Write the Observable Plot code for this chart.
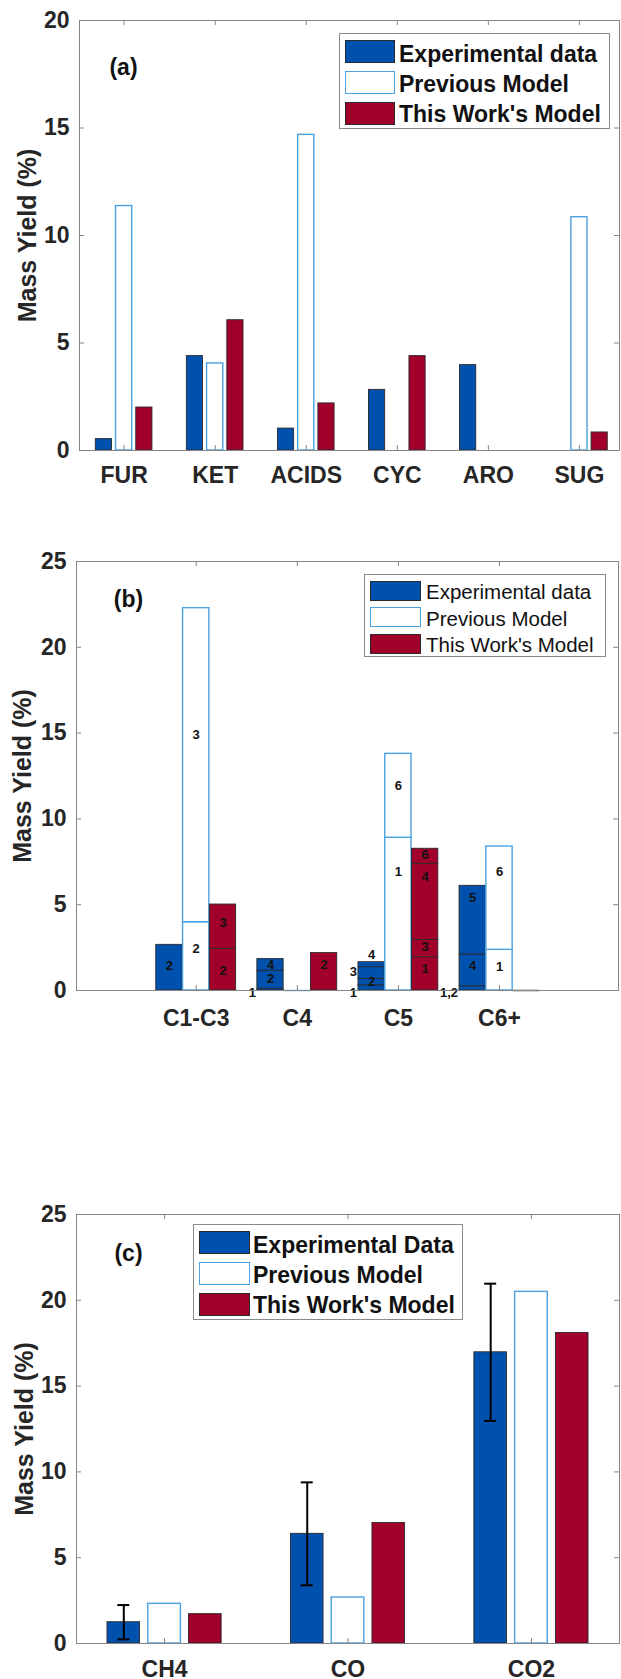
<!DOCTYPE html>
<html>
<head>
<meta charset="utf-8">
<script src="https://cdn.jsdelivr.net/npm/d3@7"></script>
<script src="https://cdn.jsdelivr.net/npm/@observablehq/plot@0.6"></script>
<style>
  html, body { margin: 0; padding: 0; background: #fff; overflow: hidden; }
  #root { position: relative; width: 621px; height: 1679px; font-family: "Liberation Sans", Arial, sans-serif; color: #262626; }
  .panel { position: absolute; left: 0; }
  .legend { position: absolute; border: 1px solid #8a8a8a; background: #fff; box-sizing: border-box; }
  .sw { position: absolute; box-sizing: border-box; }
  .lt { position: absolute; white-space: nowrap; line-height: 1; transform: translateY(-50%); color: #111; }
</style>
</head>
<body>
<div id="root"></div>
<script>
// ---------------- DATA ----------------
const seriesNames = ["Experimental data", "Previous Model", "This Work's Model"];
const seriesNamesC = ["Experimental Data", "Previous Model", "This Work's Model"];

// (a) liquid product classes
const catsA = ["FUR", "KET", "ACIDS", "CYC", "ARO", "SUG"];
const expA  = [0.53, 4.39, 1.02, 2.82, 3.97, 0];
const prevA = [11.37, 4.05, 14.68, 0, 0, 10.85];
const workA = [2.00, 6.06, 2.19, 4.39, 0, 0.84];
const yTicksA = [0, 5, 10, 15, 20];

// (b) stacked lumps by carbon number: [category, lump, mass yield]
const catsB = ["C1-C3", "C4", "C5", "C6+"];
const expB = [["C1-C3","2",2.66],["C4","1",0.10],["C4","2",1.05],["C4","4",0.68],
              ["C5","1",0.30],["C5","2",0.38],["C5","3",0.68],["C5","4",0.29],
              ["C6+","1,2",0.25],["C6+","4",1.85],["C6+","5",4.00]];
const prevB = [["C1-C3","2",3.98],["C1-C3","3",18.30],["C5","1",8.90],["C5","6",4.89],
               ["C6+","1",2.37],["C6+","6",6.02]];
const workB = [["C1-C3","2",2.43],["C1-C3","3",2.58],["C4","2",2.18],
               ["C5","1",1.94],["C5","3",1.01],["C5","4",4.43],["C5","6",0.88]];
// lump annotations: [category, series, text, height (%), side]
const labelsB = [
  ["C1-C3",0,"2",1.46,"in"], ["C1-C3",1,"2",2.45,"in"], ["C1-C3",1,"3",14.9,"in"],
  ["C1-C3",2,"2",1.17,"in"], ["C1-C3",2,"3",3.92,"in"],
  ["C4",0,"1",-0.12,"left"], ["C4",0,"2",0.68,"in"], ["C4",0,"4",1.51,"in"], ["C4",2,"2",1.5,"in"],
  ["C5",0,"1",-0.12,"left"], ["C5",0,"2",0.48,"in"], ["C5",0,"3",1.11,"left"], ["C5",0,"4",2.1,"in"],
  ["C5",1,"1",6.9,"in"], ["C5",1,"6",11.9,"in"],
  ["C5",2,"1",1.26,"in"], ["C5",2,"3",2.52,"in"], ["C5",2,"4",6.6,"in"], ["C5",2,"6",7.9,"in"],
  ["C6+",0,"1,2",-0.12,"left"], ["C6+",0,"4",1.46,"in"], ["C6+",0,"5",5.4,"in"],
  ["C6+",1,"1",1.36,"in"], ["C6+",1,"6",6.9,"in"]
];
const yTicksB = [0, 5, 10, 15, 20, 25];

// (c) gases
const catsC = ["CH4", "CO", "CO2"];
const expC  = [1.24, 6.39, 16.97];
const errC  = [1.00, 3.00, 4.00];
const prevC = [2.31, 2.68, 20.49];
const workC = [1.71, 7.02, 18.10];
const yTicksC = [0, 5, 10, 15, 20, 25];

// ---------------- STYLE ----------------
const BLUE = "#0051AD", RED = "#A0002A", LBLUE = "#4AA2E2", EDGE = "#2a2a2a", AX = "#858585", TXT = "#262626";
const FONT = "'Liberation Sans', Arial, Helvetica, sans-serif";
const fills = [BLUE, "#ffffff", RED];
const strokes = [EDGE, LBLUE, EDGE];
const strokeW = [0.9, 1.4, 0.9];

const root = document.getElementById("root");

function groupedRows(cats, values, offsets, w) {
  const rows = [];
  values.forEach((vals, s) => vals.forEach((v, i) => {
    const xc = i + 1 + offsets[s];
    rows.push({s, i, v, xc, x1: xc - w / 2, x2: xc + w / 2});
  }));
  return rows;
}

function frameMarks(cfg) {
  const {xDomain, yMax, xTicks, yTicks, pxX, pxY} = cfg;
  const tl = 5;
  return [
    Plot.ruleY(yTicks, {y: d => d, x1: xDomain[0], x2: xDomain[0] + tl / pxX, stroke: AX}),
    Plot.ruleY(yTicks, {y: d => d, x1: xDomain[1] - tl / pxX, x2: xDomain[1], stroke: AX}),
    Plot.ruleX(xTicks, {x: d => d, y1: 0, y2: tl / pxY, stroke: AX}),
    Plot.ruleX(xTicks, {x: d => d, y1: yMax - tl / pxY, y2: yMax, stroke: AX}),
    Plot.axisY({ticks: yTicks, tickSize: 0, tickPadding: 10, label: null, fontSize: 23, fontWeight: "bold", fill: TXT}),
    Plot.axisX({ticks: xTicks, tickFormat: i => cfg.cats[i - 1], tickSize: 0, tickPadding: cfg.xPad, label: null, fontSize: 23, fontWeight: "bold", fill: TXT}),
    Plot.text(["Mass Yield (%)"], {text: d => d, frameAnchor: "left", rotate: -90, dx: cfg.ylabDx, fontSize: 25, fontWeight: "bold", fill: TXT, textAnchor: "middle", lineAnchor: "middle"}),
    Plot.text([cfg.tag], {text: d => d, frameAnchor: "top-left", dx: cfg.tagDx, dy: cfg.tagDy, fontSize: 23, fontWeight: "bold", fill: "#111", textAnchor: "middle", lineAnchor: "middle"})
  ];
}

function makePanel(cfg, marks) {
  const innerW = cfg.width - cfg.marginLeft - cfg.marginRight;
  const innerH = cfg.height - cfg.marginTop - cfg.marginBottom;
  cfg.pxX = innerW / (cfg.xDomain[1] - cfg.xDomain[0]);
  cfg.pxY = innerH / cfg.yMax;
  const svg = Plot.plot({
    width: cfg.width, height: cfg.height,
    marginLeft: cfg.marginLeft, marginRight: cfg.marginRight,
    marginTop: cfg.marginTop, marginBottom: cfg.marginBottom,
    x: {domain: cfg.xDomain},
    y: {domain: [0, cfg.yMax]},
    style: {fontFamily: FONT, fontSize: "22px", color: TXT, background: "transparent", overflow: "visible"},
    marks: [
      ...marks(cfg),
      Plot.frame({stroke: AX, strokeWidth: 1}),
      ...frameMarks(cfg)
    ]
  });
  const div = document.createElement("div");
  div.className = "panel";
  div.style.top = cfg.top + "px";
  div.appendChild(svg);
  root.appendChild(div);
}

function makeLegend(L, names) {
  const box = document.createElement("div");
  box.className = "legend";
  Object.assign(box.style, {left: L.left + "px", top: L.top + "px", width: L.w + "px", height: L.h + "px"});
  names.forEach((n, k) => {
    const sw = document.createElement("div");
    sw.className = "sw";
    Object.assign(sw.style, {left: L.swLeft + "px", top: L.swTops[k] + "px", width: L.swW + "px", height: L.swH + "px",
      background: fills[k], border: (k === 1 ? "1.5px solid " + LBLUE : "1px solid " + EDGE)});
    box.appendChild(sw);
    const t = document.createElement("div");
    t.className = "lt";
    t.textContent = n;
    Object.assign(t.style, {left: L.textLeft + "px", top: L.textMid[k] + "px", fontSize: L.fontSize + "px", fontWeight: L.weight});
    box.appendChild(t);
  });
  root.appendChild(box);
}

// ---------------- PANEL (a) ----------------
const offG = [-0.2222, 0, 0.2222], wG = 0.1778;
const rowsA = groupedRows(catsA, [expA, prevA, workA], offG, wG);
makePanel({
  top: 0, width: 621, height: 490, marginLeft: 79, marginRight: 2, marginTop: 20, marginBottom: 40,
  xDomain: [0.51, 6.44], yMax: 20, xTicks: d3.range(1, 7), yTicks: yTicksA, cats: catsA,
  xPad: 16, ylabDx: -52, tag: "(a)", tagDx: 44, tagDy: 47
}, () => [0, 1, 2].map(s => Plot.rect(rowsA.filter(r => r.s === s && r.v > 0),
  {x1: "x1", x2: "x2", y1: 0, y2: "v", fill: fills[s], stroke: strokes[s], strokeWidth: strokeW[s]})));
makeLegend({left: 339, top: 33, w: 271, h: 96, swLeft: 5, swW: 50, swH: 23, swTops: [6, 36.7, 67.7],
  textLeft: 59, textMid: [20, 50, 80], fontSize: 23, weight: "bold"}, seriesNames);

// ---------------- PANEL (b) ----------------
const offB = [-0.265, 0, 0.265], wB = 0.26;
const segsB = [];
[expB, prevB, workB].forEach((arr, s) => {
  catsB.forEach((c, i) => {
    let acc = 0;
    const parts = arr.filter(d => d[0] === c);
    const xc = i + 1 + offB[s];
    if (parts.length === 0) segsB.push({s, i, xc, x1: xc - wB / 2, x2: xc + wB / 2, y1: 0, y2: 0, zero: true});
    parts.forEach(d => {
      segsB.push({s, i, xc, x1: xc - wB / 2, x2: xc + wB / 2, y1: acc, y2: acc + d[2], lump: d[1]});
      acc += d[2];
    });
  });
});
const labRows = labelsB.map(([c, s, t, y, side]) => {
  const i = catsB.indexOf(c), xc = i + 1 + offB[s];
  return {t, y, side, xc, xl: xc - wB / 2};
});
makePanel({
  top: 541, width: 621, height: 494, marginLeft: 76, marginRight: 3, marginTop: 20, marginBottom: 45,
  xDomain: [-0.184, 5.177], yMax: 25, xTicks: d3.range(1, 5), yTicks: yTicksB, cats: catsB,
  xPad: 19, ylabDx: -53.5, tag: "(b)", tagDx: 52, tagDy: 38
}, () => [
  ...[0, 1, 2].map(s => Plot.rect(segsB.filter(r => r.s === s && !r.zero),
    {x1: "x1", x2: "x2", y1: "y1", y2: "y2", fill: fills[s], stroke: strokes[s], strokeWidth: strokeW[s]})),
  ...[0, 1, 2].map(s => Plot.ruleY(segsB.filter(r => r.s === s && r.zero),
    {y: 0, x1: "x1", x2: "x2", stroke: strokes[s], strokeWidth: 1.4})),
  Plot.text(labRows.filter(d => d.side === "in"), {x: "xc", y: "y", text: "t", fontSize: 13, fontWeight: "bold", fill: "#111"}),
  Plot.text(labRows.filter(d => d.side === "left"), {x: "xl", y: "y", text: "t", dx: -1.5, textAnchor: "end", fontSize: 13, fontWeight: "bold", fill: "#111"})
]);
makeLegend({left: 364, top: 574, w: 242, h: 83, swLeft: 5, swW: 51, swH: 20, swTops: [6, 32, 58.5],
  textLeft: 61, textMid: [17, 43.7, 70], fontSize: 20.5, weight: "normal"}, seriesNames);

// ---------------- PANEL (c) ----------------
const rowsC = groupedRows(catsC, [expC, prevC, workC], offG, wG);
const errRows = expC.map((v, i) => ({xc: i + 1 + offG[0], lo: v - errC[i], hi: v + errC[i]}));
makePanel({
  top: 1194, width: 621, height: 485, marginLeft: 76, marginRight: 2, marginTop: 20, marginBottom: 36,
  xDomain: [0.52, 3.48], yMax: 25, xTicks: d3.range(1, 4), yTicks: yTicksC, cats: catsC,
  xPad: 17, ylabDx: -52, tag: "(c)", tagDx: 52, tagDy: 39
}, (cfg) => [
  ...[0, 1, 2].map(s => Plot.rect(rowsC.filter(r => r.s === s && r.v > 0),
    {x1: "x1", x2: "x2", y1: 0, y2: "v", fill: fills[s], stroke: strokes[s], strokeWidth: strokeW[s]})),
  Plot.ruleX(errRows, {x: "xc", y1: "lo", y2: "hi", stroke: "#000", strokeWidth: 2}),
  Plot.ruleY(errRows, {y: "lo", x1: d => d.xc - 6 / cfg.pxX, x2: d => d.xc + 6 / cfg.pxX, stroke: "#000", strokeWidth: 2}),
  Plot.ruleY(errRows, {y: "hi", x1: d => d.xc - 6 / cfg.pxX, x2: d => d.xc + 6 / cfg.pxX, stroke: "#000", strokeWidth: 2})
]);
makeLegend({left: 193, top: 1224, w: 270, h: 96, swLeft: 5, swW: 51, swH: 23, swTops: [6, 37, 67.5],
  textLeft: 59, textMid: [20, 50, 80], fontSize: 23, weight: "bold"}, seriesNamesC);
</script>
</body>
</html>
